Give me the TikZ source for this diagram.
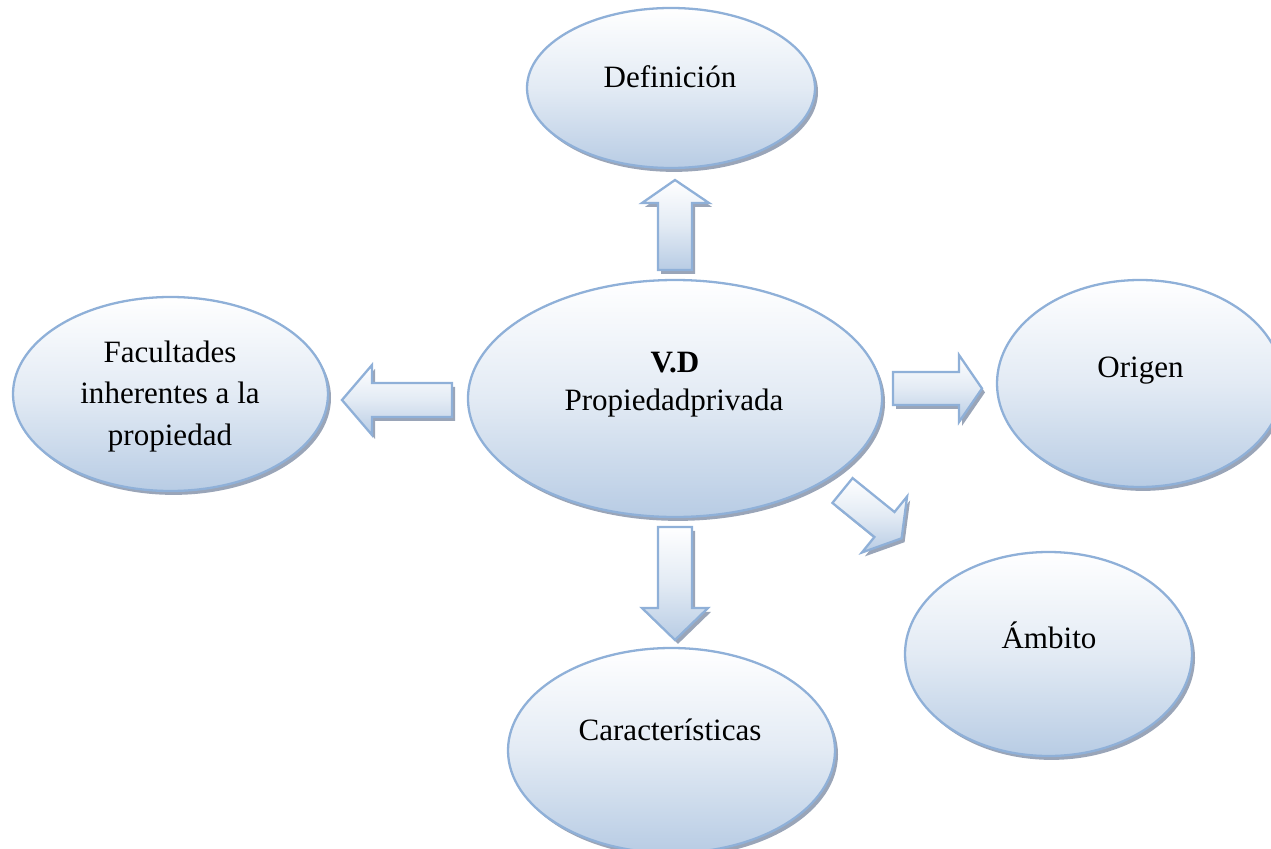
\documentclass[tikz,border=0pt]{standalone}
\usepackage{fontspec}
\setmainfont{Liberation Serif}
\usetikzlibrary{shapes.geometric,shadows}
\def\pxu{0.5669pt}
\definecolor{bubtop}{RGB}{255,255,255}
\definecolor{bubbot}{RGB}{184,204,228}
\definecolor{bubline}{RGB}{143,176,216}
\definecolor{shadowc}{RGB}{120,135,160}
\tikzset{
  myshadow/.style={drop shadow={shadow xshift=1.7pt, shadow yshift=-2.2pt, fill=shadowc, opacity=0.75}},
  bub/.style={ellipse, inner sep=0pt, draw=bubline, line width=1.3pt,
    top color=bubtop, bottom color=bubbot, middle color=bubbot!40!white, myshadow},
  blk/.style={draw=bubline, line width=1.3pt, line join=miter,
    top color=bubtop, bottom color=bubbot, middle color=bubbot!40!white, myshadow},
  lbl/.style={anchor=base, inner sep=0pt, align=center, font=\fontsize{17.6}{23.5}\selectfont}
}
\begin{document}
\begin{tikzpicture}[x=0.5669pt, y=-0.5669pt]
\useasboundingbox (0,0) rectangle (1271,848);
\clip (0,0) rectangle (1271,848);
% ellipses
\node[bub, minimum width={288*\pxu}, minimum height={160*\pxu}] (def) at (671,88) {};
\node[bub, minimum width={315*\pxu}, minimum height={194*\pxu}] (fac) at (170.5,394) {};
\node[bub, minimum width={414*\pxu}, minimum height={237*\pxu}] (vd) at (675,398.5) {};
\node[bub, minimum width={286*\pxu}, minimum height={207*\pxu}] (ori) at (1140,383.5) {};
\node[bub, minimum width={287*\pxu}, minimum height={204*\pxu}] (amb) at (1048.5,654) {};
\node[bub, minimum width={327*\pxu}, minimum height={205*\pxu}] (car) at (671.5,750.5) {};
% block arrows
% up
\draw[blk] (658,270) -- (658,203) -- (642,203) -- (675,180) -- (709,203) -- (692,203) -- (692,270) -- cycle;
% left
\draw[blk] (452,383) -- (372,383) -- (372,365) -- (342,400) -- (372,435) -- (372,417) -- (452,417) -- cycle;
% right
\draw[blk] (893,372) -- (959,372) -- (959,355) -- (982,388.5) -- (959,422) -- (959,405) -- (893,405) -- cycle;
% down
\draw[blk] (658,527) -- (658,608) -- (642,608) -- (675,640) -- (708,608) -- (692,608) -- (692,527) -- cycle;
% diagonal
\draw[blk] (852.6,478.1) -- (894.5,512.0) -- (907.1,496.5) -- (901.6,538.3) -- (861.9,552.5) -- (874.4,537.0) -- (832.4,502.9) -- cycle;
% labels
\node[lbl] (tdef) at (670,88) {Definición};
\node[lbl] (tvd1) at (675,372) {\textbf{V.D}};
\node[lbl] (tvd2) at (674,410) {Propiedadprivada};
\node[lbl] (tfac) at (170,445) {Facultades\\inherentes a la\\propiedad};
\node[lbl] (tori) at (1140.5,377) {Origen};
\node[lbl] (tamb) at (1049,648) {Ámbito};
\node[lbl] (tcar) at (670,740) {Características};
\end{tikzpicture}
\end{document}
